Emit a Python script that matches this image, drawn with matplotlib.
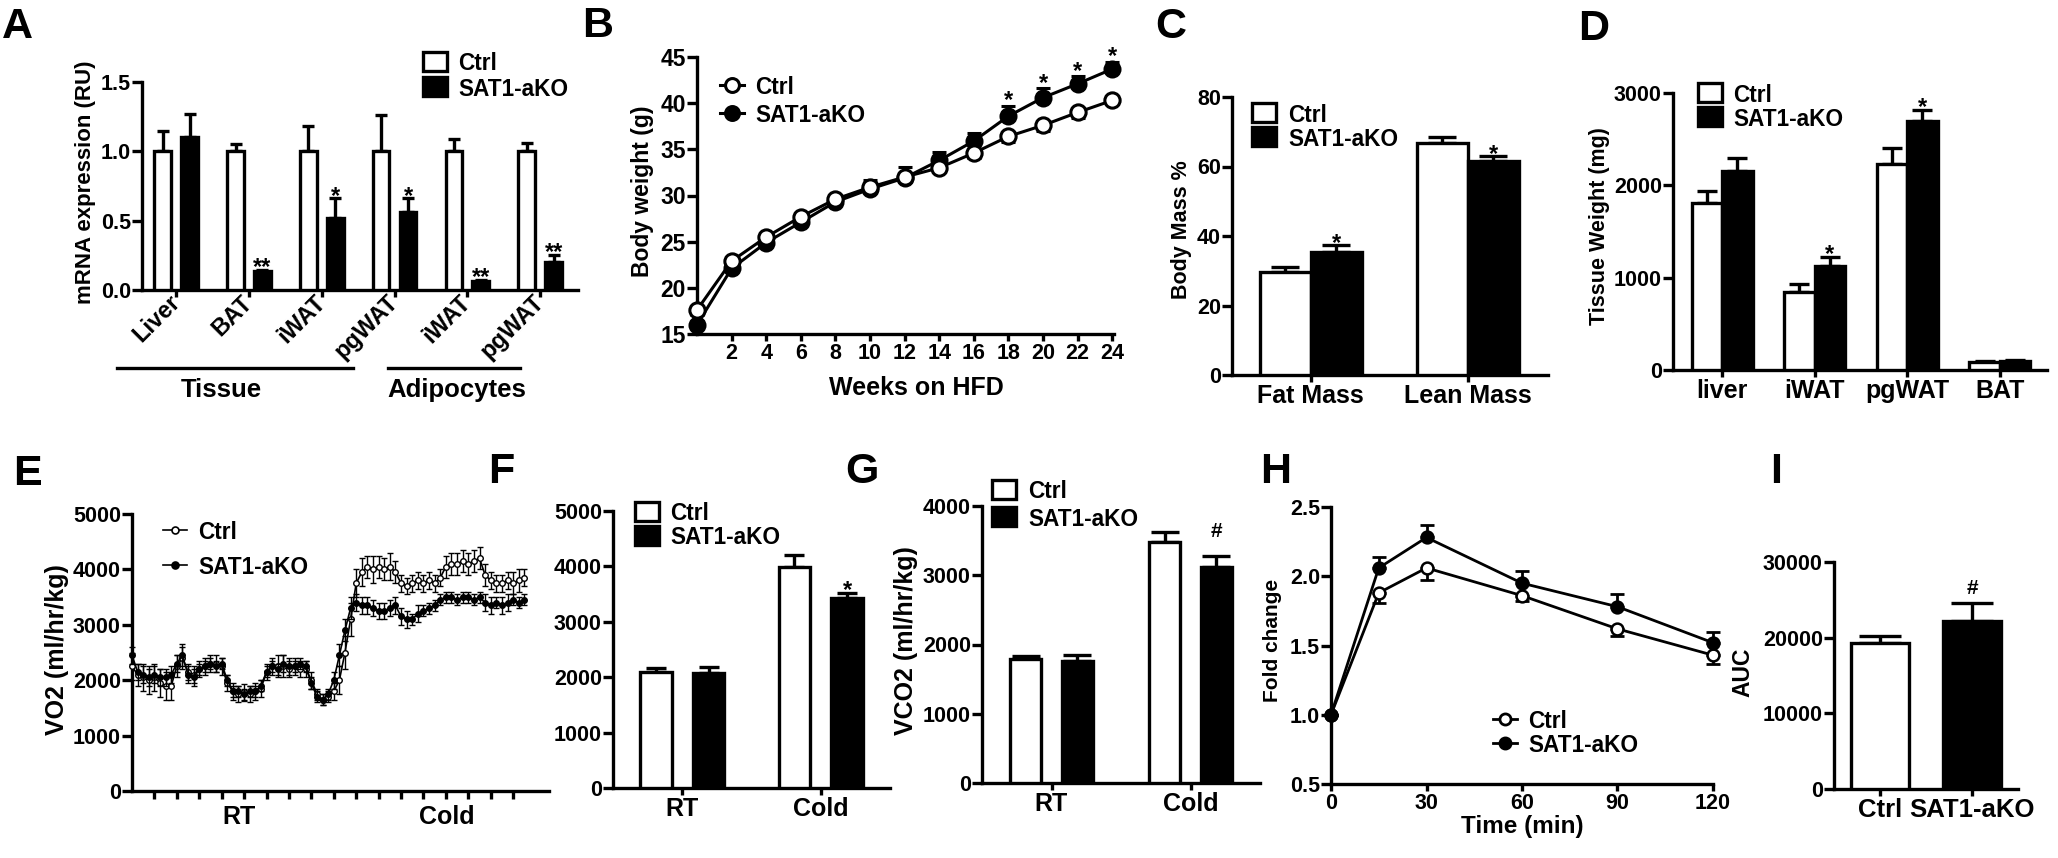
import numpy as np
import matplotlib
matplotlib.use('Agg')
import matplotlib.pyplot as plt
from matplotlib.lines import Line2D
from matplotlib.patches import Rectangle
from matplotlib.ticker import FormatStrFormatter

# ---- data -------------------------------------------------------------
# A: mRNA expression
a_labels = ['Liver', 'BAT', 'iWAT', 'pgWAT', 'iWAT', 'pgWAT']
a_ctrl = [1.0, 1.0, 1.0, 1.0, 1.0, 1.0]
a_ctrl_err = [0.15, 0.05, 0.18, 0.26, 0.09, 0.06]
a_ko = [1.10, 0.14, 0.52, 0.56, 0.065, 0.20]
a_ko_err = [0.17, 0.005, 0.14, 0.10, 0.01, 0.05]
a_marks = ['', '**', '*', '*', '**', '**']

# B: body weight on HFD
b_weeks = [0, 2, 4, 6, 8, 10, 12, 14, 16, 18, 20, 22, 24]
b_ctrl = [17.6, 22.9, 25.5, 27.7, 29.6, 30.9, 32.0, 33.0, 34.6, 36.4, 37.6, 39.0, 40.3]
b_ctrl_err = [0.5, 0.4, 0.4, 0.4, 0.4, 0.5, 0.5, 0.5, 0.5, 0.6, 0.6, 0.6, 0.4]
b_ko = [16.0, 22.1, 24.9, 27.1, 29.3, 30.7, 31.9, 33.8, 35.9, 38.6, 40.6, 42.1, 43.7]
b_ko_err = [0.4, 0.4, 0.4, 0.4, 0.5, 1.0, 1.2, 0.9, 0.9, 1.1, 1.0, 0.8, 0.8]
b_sig = [18, 20, 22, 24]

# C: body composition
c_labels = ['Fat Mass', 'Lean Mass']
c_ctrl = [29.5, 66.8]
c_ctrl_err = [1.7, 1.7]
c_ko = [35.5, 61.7]
c_ko_err = [1.8, 1.2]

# D: tissue weight
d_labels = ['liver', 'iWAT', 'pgWAT', 'BAT']
d_ctrl = [1812, 848, 2232, 90]
d_ctrl_err = [130, 80, 176, 10]
d_ko = [2159, 1130, 2701, 100]
d_ko_err = [134, 91, 116, 8]
d_marks = ['', '*', '*', '']

# E: VO2 trace (one value every quarter tick)
vo2_ctrl = [
    2250, 2100, 2050, 2000, 2050, 1950, 1900, 1900, 2250, 2400,
    2150, 2100, 2200, 2250, 2300, 2300, 2250, 1950, 1800, 1750,
    1780, 1750, 1800, 1850, 2150, 2250, 2250, 2250, 2200, 2250,
    2200, 2200, 2000, 1750, 1650, 1700, 1800, 2000, 2500, 3100,
    3750, 3950, 4050, 4000, 4050, 4000, 4050, 3950, 3750, 3700,
    3750, 3800, 3750, 3800, 3750, 3850, 4050, 4100, 4100, 4150,
    4100, 4150, 4200, 3900, 3800, 3750, 3750, 3800, 3750, 3800,
    3850]
vo2_ctrl_err = [
    250, 200, 250, 250, 250, 250, 250, 250, 200, 200,
    150, 150, 150, 150, 150, 150, 150, 150, 150, 150,
    150, 150, 150, 150, 150, 150, 200, 200, 150, 150,
    150, 150, 150, 100, 100, 100, 150, 250, 300, 300,
    250, 250, 200, 250, 200, 200, 250, 200, 150, 150,
    150, 150, 150, 150, 150, 150, 200, 200, 200, 200,
    200, 200, 200, 200, 150, 150, 150, 150, 200, 200,
    150]
vo2_ko = [
    2450, 2150, 2100, 2050, 2100, 2050, 2050, 2100, 2300, 2450,
    2100, 2050, 2200, 2250, 2300, 2250, 2300, 2000, 1800, 1800,
    1750, 1800, 1800, 1900, 2150, 2250, 2200, 2300, 2250, 2250,
    2300, 2250, 1950, 1700, 1650, 1750, 2000, 2450, 2900, 3300,
    3400, 3350, 3350, 3300, 3250, 3250, 3300, 3350, 3150, 3100,
    3100, 3200, 3250, 3300, 3350, 3450, 3500, 3500, 3450, 3500,
    3500, 3450, 3500, 3400, 3350, 3400, 3350, 3400, 3450, 3400,
    3450]
vo2_ko_err = [
    150, 150, 150, 150, 150, 150, 150, 150, 150, 200,
    150, 150, 100, 100, 100, 100, 100, 100, 100, 100,
    100, 100, 100, 100, 100, 100, 100, 150, 150, 100,
    100, 100, 100, 100, 100, 100, 150, 200, 200, 200,
    150, 150, 150, 150, 150, 150, 150, 150, 150, 150,
    100, 150, 100, 100, 100, 100, 100, 100, 100, 100,
    100, 100, 100, 150, 150, 100, 150, 150, 100, 100,
    100]
vo2_ticks = list(range(1, 18))

# F: VO2 means, G: VCO2 means
temp_labels = ['RT', 'Cold']
f_ctrl = [2100, 3995]
f_ctrl_err = [60, 210]
f_ko = [2070, 3435]
f_ko_err = [120, 80]
g_ctrl = [1787, 3487]
g_ctrl_err = [40, 136]
g_ko = [1768, 3126]
g_ko_err = [82, 159]

# H: GTT fold change
h_time = [0, 15, 30, 60, 90, 120]
h_ctrl = [1.0, 1.88, 2.06, 1.86, 1.62, 1.43]
h_ctrl_err = [0.0, 0.07, 0.09, 0.04, 0.05, 0.06]
h_ko = [1.0, 2.06, 2.28, 1.95, 1.78, 1.52]
h_ko_err = [0.0, 0.08, 0.09, 0.09, 0.09, 0.08]

# I: AUC
i_labels = ['Ctrl', 'SAT1-aKO']
i_auc = [19350, 22250]
i_err = [850, 2350]

# ---- figure helpers ---------------------------------------------------
W, H = 2058, 858
plt.rcParams['font.family'] = ['Liberation Sans', 'DejaVu Sans']
plt.rcParams['font.weight'] = 'bold'
plt.rcParams['axes.labelweight'] = 'bold'

fig = plt.figure(figsize=(W / 100, H / 100), dpi=100)
fig.patch.set_facecolor('white')

LW = 2.4
NUM = 15.5
CAT = 18


def fx(x):
    return x / W


def fy(y):
    return 1 - y / H


def px_axes(x0, y0, x1, y1):
    return fig.add_axes([fx(x0), fy(y1), (x1 - x0) / W, (y1 - y0) / H])


def style(ax, xsize=NUM):
    for s in ['top', 'right']:
        ax.spines[s].set_visible(False)
    for s in ['left', 'bottom']:
        ax.spines[s].set_linewidth(LW)
    ax.tick_params(axis='y', direction='out', length=7, width=LW, pad=1, labelsize=NUM)
    ax.tick_params(axis='x', direction='out', length=5, width=LW, pad=1.5, labelsize=xsize)


def bars(ax, ctrl, ctrl_err, ko, ko_err, width, off, cap):
    x = np.arange(len(ctrl))
    z = np.zeros(len(ctrl))
    ax.errorbar(x - off, ctrl, yerr=[z, ctrl_err], fmt='none', ecolor='black',
                elinewidth=LW, capsize=cap, capthick=LW, zorder=2)
    ax.errorbar(x + off, ko, yerr=[z, ko_err], fmt='none', ecolor='black',
                elinewidth=LW, capsize=cap, capthick=LW, zorder=2)
    ax.bar(x - off, ctrl, width, color='white', edgecolor='black', linewidth=LW, zorder=3)
    ax.bar(x + off, ko, width, color='black', edgecolor='black', linewidth=LW, zorder=3)
    return x


def mark(ax, x, y, s, dy=-3, size=17):
    ax.annotate(s, (x, y), xytext=(0, dy), textcoords='offset points',
                ha='center', va='baseline', fontsize=size, fontweight='bold',
                annotation_clip=False)


def box_legend(x, y_ctrl, y_ko, tx):
    for y, fc, lab in [(y_ctrl, 'white', 'Ctrl'), (y_ko, 'black', 'SAT1-aKO')]:
        fig.add_artist(Rectangle((fx(x), fy(y + 19)), 24 / W, 19 / H,
                                 transform=fig.transFigure, facecolor=fc,
                                 edgecolor='black', linewidth=LW))
        fig.text(fx(tx), fy(y + 9.5), lab, fontsize=16.3, va='center_baseline')


def line_legend(x0, x1, y_ctrl, y_ko, tx, ms, lw):
    for y, fc, lab in [(y_ctrl, 'white', 'Ctrl'), (y_ko, 'black', 'SAT1-aKO')]:
        fig.add_artist(Line2D([fx(x0), fx(x1)], [fy(y), fy(y)], transform=fig.transFigure,
                              color='black', lw=lw))
        fig.add_artist(Line2D([fx((x0 + x1) / 2)], [fy(y)], transform=fig.transFigure,
                              marker='o', ms=ms, mfc=fc, mec='black', mew=lw, lw=0))
        fig.text(fx(tx), fy(y), lab, fontsize=16.3, va='center_baseline')


def letter(s, x, y):
    fig.text(fx(x), fy(y), s, fontsize=31, fontweight='bold', va='baseline', ha='left')


def ylab(s, x, y, size):
    fig.text(fx(x), fy(y), s, fontsize=size, rotation=90, ha='center', va='center')


def xlab(s, x, y, size):
    fig.text(fx(x), fy(y), s, fontsize=size, ha='center', va='center')


# ---- A ----------------------------------------------------------------
axA = px_axes(142, 82, 578, 290)
style(axA)
xa = bars(axA, a_ctrl, a_ctrl_err, a_ko, a_ko_err, 0.23, 0.185, 4.3)
for xi, k, e, s in zip(xa, a_ko, a_ko_err, a_marks):
    if s:
        mark(axA, xi + 0.185, k + e, s)
axA.set_xlim(-0.47, 5.52)
axA.set_ylim(0, 1.5)
axA.set_yticks([0, 0.5, 1.0, 1.5])
axA.yaxis.set_major_formatter(FormatStrFormatter('%.1f'))
axA.set_xticks(xa)
axA.set_xticklabels(a_labels, rotation=45, ha='right', va='center',
                    rotation_mode='anchor', fontsize=17)
fig.add_artist(Line2D([fx(117), fx(353)], [fy(368), fy(368)], transform=fig.transFigure,
                      color='black', lw=LW))
fig.add_artist(Line2D([fx(388), fx(520)], [fy(368), fy(368)], transform=fig.transFigure,
                      color='black', lw=LW))
xlab('Tissue', 221, 390, 18.5)
xlab('Adipocytes', 457, 390, 18.5)
ylab('mRNA expression (RU)', 86, 182, 16)
box_legend(423, 52, 77, 458)
letter('A', 2, 38)

# ---- B ----------------------------------------------------------------
axB = px_axes(697, 57, 1114, 334)
style(axB)
zb = np.zeros(len(b_weeks))
axB.errorbar(b_weeks, b_ko, yerr=[zb, b_ko_err], fmt='none', ecolor='black',
             elinewidth=2.2, capsize=5, capthick=2.2, zorder=2, clip_on=False)
axB.errorbar(b_weeks, b_ctrl, yerr=[b_ctrl_err, zb], fmt='none', ecolor='black',
             elinewidth=2.2, capsize=5, capthick=2.2, zorder=2, clip_on=False)
axB.plot(b_weeks, b_ko, '-o', color='black', lw=2.2, ms=11, mfc='black', mec='black',
         mew=2, zorder=3, clip_on=False)
axB.plot(b_weeks, b_ctrl, '-o', color='black', lw=2.2, ms=11, mfc='white', mec='black',
         mew=2.2, zorder=4, clip_on=False)
for w in b_sig:
    i = b_weeks.index(w)
    mark(axB, w, b_ko[i] + b_ko_err[i], '*', dy=-1)
axB.set_xlim(0, 24.1)
axB.set_ylim(15, 45)
axB.set_xticks(b_weeks[1:])
axB.set_yticks([15, 20, 25, 30, 35, 40, 45])
axB.tick_params(axis='y', labelsize=16.5)
ylab('Body weight (g)', 643, 191, 16.5)
xlab('Weeks on HFD', 916, 388, 18)
line_legend(720, 744, 85, 113, 755, 10, 2.2)
letter('B', 582, 37)

# ---- C ----------------------------------------------------------------
axC = px_axes(1232, 97, 1548, 375)
style(axC, CAT)
xc = bars(axC, c_ctrl, c_ctrl_err, c_ko, c_ko_err, 0.325, 0.1625, 10)
for xi, k, e in zip(xc, c_ko, c_ko_err):
    mark(axC, xi + 0.1625, k + e, '*')
axC.set_xlim(-0.5, 1.51)
axC.set_ylim(0, 80)
axC.set_yticks([0, 20, 40, 60, 80])
axC.set_xticks(xc)
axC.set_xticklabels(c_labels)
ylab('Body Mass %', 1181, 230, 15.5)
box_legend(1252, 103, 127, 1288)
letter('C', 1155, 38)

# ---- D ----------------------------------------------------------------
axD = px_axes(1673, 93, 2047, 370)
style(axD, CAT)
xd = bars(axD, d_ctrl, d_ctrl_err, d_ko, d_ko_err, 0.33, 0.165, 7)
for xi, k, e, s in zip(xd, d_ko, d_ko_err, d_marks):
    if s:
        mark(axD, xi + 0.165, k + e, s)
axD.set_xlim(-0.53, 3.51)
axD.set_ylim(0, 3000)
axD.set_yticks([0, 1000, 2000, 3000])
axD.set_xticks(xd)
axD.set_xticklabels(d_labels)
ylab('Tissue Weight (mg)', 1599, 226, 15.5)
box_legend(1698, 83, 107, 1733)
letter('D', 1578, 40)

# ---- E ----------------------------------------------------------------
axE = px_axes(132, 514, 549, 791)
style(axE, CAT)
vo2_t = np.arange(len(vo2_ctrl)) * 0.25
axE.errorbar(vo2_t, vo2_ctrl, yerr=vo2_ctrl_err, fmt='-o', color='black', lw=1.2,
             ms=4, mfc='white', mec='black', mew=1, elinewidth=1, capsize=2.5,
             capthick=1, zorder=3, clip_on=False)
axE.errorbar(vo2_t, vo2_ko, yerr=vo2_ko_err, fmt='-o', color='black', lw=1.2,
             ms=4, mfc='black', mec='black', mew=1, elinewidth=1, capsize=2.5,
             capthick=1, zorder=4, clip_on=False)
axE.set_xlim(0, 18.6)
axE.set_ylim(0, 5000)
axE.set_yticks([0, 1000, 2000, 3000, 4000, 5000])
axE.set_xticks(vo2_ticks, minor=True)
axE.set_xticks([4.79, 14.05])
axE.set_xticklabels(['RT', 'Cold'])
axE.tick_params(axis='x', which='major', length=0, pad=10)
axE.tick_params(axis='x', which='minor', direction='out', length=6, width=LW)
ylab('VO2 (ml/hr/kg)', 57, 650, 18)
line_legend(163, 187, 530, 565, 198, 5, 1.2)
letter('E', 13, 485)

# ---- F ----------------------------------------------------------------
axF = px_axes(613, 511, 890, 788)
style(axF, CAT)
xf = bars(axF, f_ctrl, f_ctrl_err, f_ko, f_ko_err, 0.23, 0.19, 7)
mark(axF, 1 + 0.19, f_ko[1] + f_ko_err[1], '*')
axF.set_xlim(-0.5, 1.5)
axF.set_ylim(0, 5000)
axF.set_yticks([0, 1000, 2000, 3000, 4000, 5000])
axF.set_xticks(xf)
axF.set_xticklabels(temp_labels)
box_legend(635, 502, 526, 670)
letter('F', 488, 483)

# ---- G ----------------------------------------------------------------
axG = px_axes(982, 506, 1260, 783)
style(axG, CAT)
xg = bars(axG, g_ctrl, g_ctrl_err, g_ko, g_ko_err, 0.23, 0.187, 10)
mark(axG, 1 + 0.187, g_ko[1] + g_ko_err[1], '#', dy=13, size=15)
axG.set_xlim(-0.5, 1.5)
axG.set_ylim(0, 4000)
axG.set_yticks([0, 1000, 2000, 3000, 4000])
axG.set_xticks(xg)
axG.set_xticklabels(temp_labels)
ylab('VCO2 (ml/hr/kg)', 906, 641, 18)
box_legend(992, 480, 507, 1028)
letter('G', 845, 483)

# ---- H ----------------------------------------------------------------
axH = px_axes(1331, 507, 1713, 784)
style(axH)
zh = np.zeros(len(h_time))
axH.errorbar(h_time, h_ko, yerr=[zh, h_ko_err], fmt='none', ecolor='black',
             elinewidth=2, capsize=5, capthick=2, zorder=2, clip_on=False)
axH.errorbar(h_time, h_ctrl, yerr=[h_ctrl_err, zh], fmt='none', ecolor='black',
             elinewidth=2, capsize=5, capthick=2, zorder=2, clip_on=False)
axH.plot(h_time, h_ctrl, '-o', color='black', lw=2, ms=8.5, mfc='white', mec='black',
         mew=1.8, zorder=3, clip_on=False)
axH.plot(h_time, h_ko, '-o', color='black', lw=2, ms=8.5, mfc='black', mec='black',
         mew=1.8, zorder=4, clip_on=False)
axH.set_xlim(0, 120)
axH.set_ylim(0.5, 2.5)
axH.set_xticks([0, 30, 60, 90, 120])
axH.set_yticks([0.5, 1.0, 1.5, 2.0, 2.5])
axH.yaxis.set_major_formatter(FormatStrFormatter('%.1f'))
ylab('Fold change', 1273, 640, 15)
xlab('Time (min)', 1522, 826, 17.5)
line_legend(1493, 1517, 719, 743, 1528, 8, 2)
letter('H', 1260, 483)

# ---- I ----------------------------------------------------------------
axI = px_axes(1834, 562, 2018, 789)
style(axI, 18.5)
xi_ = np.arange(len(i_auc))
axI.errorbar(xi_, i_auc, yerr=[np.zeros(len(i_auc)), i_err], fmt='none', ecolor='black',
             elinewidth=LW, capsize=15, capthick=LW, zorder=2)
axI.bar(xi_, i_auc, 0.64, color=['white', 'black'], edgecolor='black', linewidth=LW, zorder=3)
mark(axI, 1, i_auc[1] + i_err[1], '#', dy=6.5, size=15)
axI.set_xlim(-0.5, 1.5)
axI.set_ylim(0, 30000)
axI.set_yticks([0, 10000, 20000, 30000])
axI.set_xticks(xi_)
axI.set_xticklabels(i_labels)
ylab('AUC', 1743, 672, 16.5)
letter('I', 1770, 483)

fig.savefig('out.png', dpi=100, facecolor='white')
